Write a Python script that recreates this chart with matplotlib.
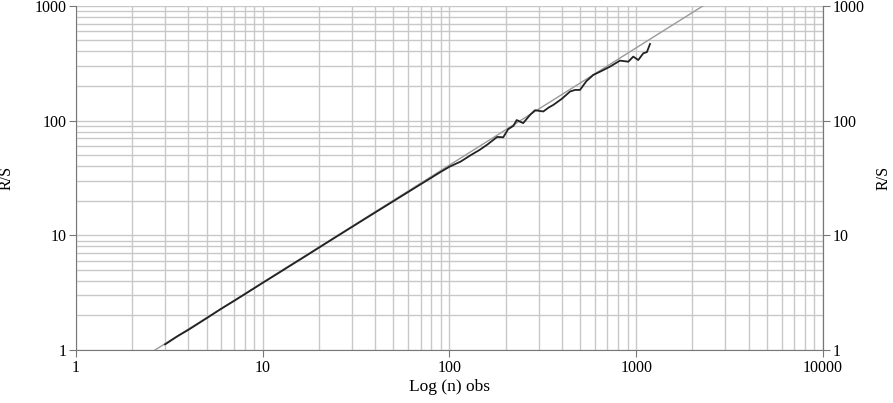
import numpy as np
import matplotlib.pyplot as plt

# R/S estimates
n_obs = [3.0, 3.5, 4, 5, 6, 7, 8, 10, 12, 14, 17, 20, 24, 28, 33, 38, 44, 50, 57, 65,
         72, 80, 90, 100, 115, 130, 145, 160, 170, 180, 194, 206, 220, 229, 248, 270,
         287, 318, 340, 360, 400, 442, 470, 500, 540, 589, 650, 723, 818, 907, 964,
         1025, 1091, 1140, 1185]
rs = [1.12, 1.32, 1.5, 1.89, 2.29, 2.67, 3.06, 3.85, 4.63, 5.42, 6.6, 7.8, 9.4, 11.0,
      13.0, 15.0, 17.4, 19.8, 22.6, 25.8, 28.6, 31.8, 35.8, 39.6, 44, 50, 55.5, 62, 67,
      72, 71.5, 84, 90, 101, 95, 112, 123, 120, 130, 137, 155, 179, 185, 185, 220, 250,
      270, 295, 333, 326, 361, 337, 386, 395, 465]

# fitted reference line endpoints
fit_n = [2.65, 2280]
fit_rs = [1.0, 1000]

plt.rcParams['font.family'] = ['Liberation Serif', 'DejaVu Serif']

fig = plt.figure(figsize=(8.93, 4.03), dpi=100)
ax = fig.add_axes([0.0851, 0.1315, 0.8365, 0.854])

ax.set_xscale('log')
ax.set_yscale('log')
ax.set_xlim(1, 10000)
ax.set_ylim(1, 1000)

ax.grid(True, which='both', color='#c8c8c8', linewidth=1.0)
ax.set_axisbelow(True)

ax.plot(fit_n, fit_rs, color='#999999', linewidth=1.0, zorder=3)
ax.plot(n_obs, rs, color='#222222', linewidth=1.3, zorder=4)

for sp in ['left', 'bottom', 'right']:
    ax.spines[sp].set_color('#777777')
ax.spines['top'].set_visible(False)

ax.set_xticks([1, 10, 100, 1000, 10000])
ax.set_xticklabels(['1', '10', '100', '1000', '10000'])
ax.set_yticks([1, 10, 100, 1000])
ax.set_yticklabels(['1', '10', '100', '1000'])
ax.tick_params(which='minor', length=0)
ax.tick_params(which='major', length=5, color='#777777', labelsize=11.5, pad=2)

ax.set_xlabel('Log (n) obs', fontsize=12.5, labelpad=2)
ax.set_ylabel('R/S', fontsize=11.5, labelpad=14)

ax2 = ax.twinx()
ax2.set_yscale('log')
ax2.set_ylim(1, 1000)
ax2.set_yticks([1, 10, 100, 1000])
ax2.set_yticklabels(['1', '10', '100', '1000'])
ax2.tick_params(which='minor', length=0)
ax2.tick_params(which='major', length=5, color='#777777', labelsize=11.5, pad=2)
for sp in ['left', 'bottom', 'top']:
    ax2.spines[sp].set_visible(False)
ax2.spines['right'].set_color('#777777')
ax2.set_ylabel('R/S', fontsize=11.5, labelpad=8)

fig.savefig('out.png', dpi=100)
